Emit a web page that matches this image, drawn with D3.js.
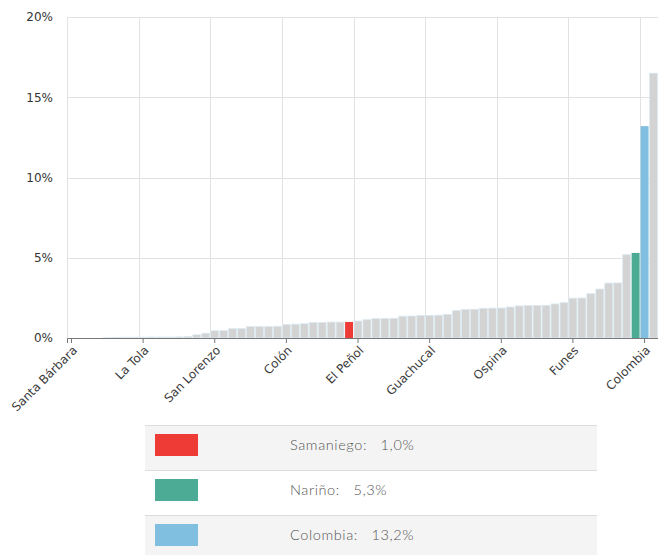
<!DOCTYPE html>
<html><head><meta charset="utf-8">
<script src="https://cdn.jsdelivr.net/npm/d3@7"></script>
<style>
body{margin:0;background:#fff;}
svg{display:block;}
</style></head>
<body><svg id="chart" width="658" height="555"></svg>
<script>
const names = ["Santa Bárbara","El Charco","Mosquera","Olaya Herrera","Francisco Pizarro","Roberto Payán","Magüí","Barbacoas",
"La Tola","Cumbitara","El Rosario","Policarpa","Leiva","Los Andes","Santacruz","Mallama",
"San Lorenzo","Ricaurte","Taminango","Linares","La Llanada","El Tablón de Gómez","San Bernardo","Arboleda",
"Colón","San Pedro de Cartago","Albán","Belén","La Cruz","San Pablo","Providencia","Samaniego",
"El Peñol","El Tambo","Buesaco","Consacá","Ancuya","La Florida","Chachagüí","Nariño (mun.)",
"Guachucal","Imués","Iles","Yacuanquer","Tangua","Sandoná","Guaitarilla","Sapuyes",
"Ospina","Gualmatán","Contadero","Puerres","Córdoba","Potosí","Cuaspud","Cumbal",
"Funes","Aldana","La Unión","Pupiales","Túquerres","Tumaco","Ipiales","Nariño",
"Colombia","Pasto"];
const values = [0,0,0,0,0.02,0.04,0.05,0.05,
0.05,0.06,0.06,0.06,0.07,0.09,0.2,0.3,
0.45,0.46,0.58,0.59,0.71,0.72,0.72,0.73,
0.84,0.86,0.89,0.96,0.97,0.99,0.99,1.0,
1.06,1.14,1.21,1.22,1.23,1.36,1.37,1.41,
1.41,1.42,1.48,1.72,1.78,1.79,1.85,1.86,
1.87,1.93,2.0,2.02,2.03,2.04,2.12,2.2,
2.48,2.49,2.76,3.05,3.42,3.43,5.19,5.3,
13.2,16.5];
const tickIndexes = [0,8,16,24,32,40,48,56,64];
const yTicks = [0,5,10,15,20];
const highlightIdx = [31,63,64];
const highlightLabels = ["Samaniego","Nariño","Colombia"];
const highlightColors = ["#ef3b36","#4bab94","#80bfdf"];

const svg = d3.select("#chart");
const pLeft = 67, pRight = 658, pTop = 17, pBottom = 338;
const x = d3.scaleBand().domain(d3.range(values.length)).range([pLeft, pRight]).padding(0);
const y = d3.scaleLinear().domain([0,20]).range([pBottom, pTop]);

// horizontal grid
svg.append("g").selectAll("line").data(yTicks).join("line")
  .attr("x1", pLeft).attr("x2", pRight)
  .attr("y1", d=>Math.round(y(d))+0.5).attr("y2", d=>Math.round(y(d))+0.5)
  .attr("stroke", "#e2e2e2").attr("stroke-width",1);
// vertical grid at band starts
svg.append("g").selectAll("line").data(tickIndexes).join("line")
  .attr("x1", d=>Math.round(x(d))+0.5).attr("x2", d=>Math.round(x(d))+0.5)
  .attr("y1", pTop).attr("y2", pBottom)
  .attr("stroke", "#e2e2e2").attr("stroke-width",1);

// bars
const colorOf = i => { const k = highlightIdx.indexOf(i); return k>=0 ? highlightColors[k] : "#d3d3d3"; };
svg.append("g").selectAll("rect").data(values).join("rect")
  .attr("x", (d,i)=>x(i)+0.5)
  .attr("width", x.bandwidth()-1)
  .attr("y", d=>y(d))
  .attr("height", d=>pBottom - y(d))
  .attr("fill", (d,i)=>colorOf(i))
  .attr("stroke", (d,i)=> highlightIdx.includes(i) ? "none" : "#dbeaf2")
  .attr("stroke-width", 0.8);

// y axis labels
const yAxis = d3.axisLeft(y).tickValues(yTicks).tickFormat(d=>d+"%").tickSize(0).tickPadding(14);
const gy = svg.append("g").attr("transform", `translate(${pLeft},0)`).call(yAxis);
gy.select(".domain").remove();
gy.selectAll("text").attr("font-family","DejaVu Sans, Verdana, sans-serif").attr("font-size","12px").attr("fill","#333");

// x axis
const xAxis = d3.axisBottom(x).tickValues(tickIndexes).tickFormat(i=>names[i]).tickSizeOuter(0).tickSize(5);
const gx = svg.append("g").attr("transform", `translate(0,${pBottom})`).call(xAxis);
gx.select(".domain").attr("stroke","#777");
gx.selectAll(".tick line").attr("stroke","#777");
gx.selectAll("text")
  .attr("font-family","DejaVu Sans, Verdana, sans-serif").attr("font-size","12px").attr("fill","#3a3a3a")
  .attr("text-anchor","end")
  .attr("transform","rotate(-45)")
  .attr("dx","-0.4em").attr("dy","0.65em").attr("y",6).attr("x",0);

// legend table
const lgTop = 425, rowH = 45, lgLeft = 145, lgRight = 597;
const fmt = v => v.toFixed(1).replace(".", ",") + "%";
const lg = svg.append("g");
const rows = lg.selectAll("g").data(highlightIdx).join("g")
  .attr("transform", (d,k)=>`translate(0,${lgTop + k*rowH})`);
rows.append("rect").attr("x", lgLeft).attr("y", 0).attr("width", lgRight-lgLeft).attr("height", rowH)
  .attr("fill", (d,k)=> k%2===0 ? "#f4f4f4" : "#ffffff");
rows.append("line").attr("x1", lgLeft).attr("x2", lgRight).attr("y1", 0.5).attr("y2", 0.5)
  .attr("stroke","#dcdcdc");
rows.append("rect").attr("x", 155).attr("y", 9).attr("width", 43).attr("height", 22)
  .attr("fill", (d,k)=>highlightColors[k]);
rows.append("text").attr("x", 290).attr("y", 25)
  .attr("font-family","Lato, 'Open Sans', sans-serif").attr("font-size","14.5px").attr("font-weight",300)
  .attr("letter-spacing","0.6px").attr("fill","#555")
  .attr("xml:space","preserve")
  .text((d,k)=> highlightLabels[k] + ":\u00a0\u00a0\u00a0" + fmt(values[d]));
</script>
</body></html>
